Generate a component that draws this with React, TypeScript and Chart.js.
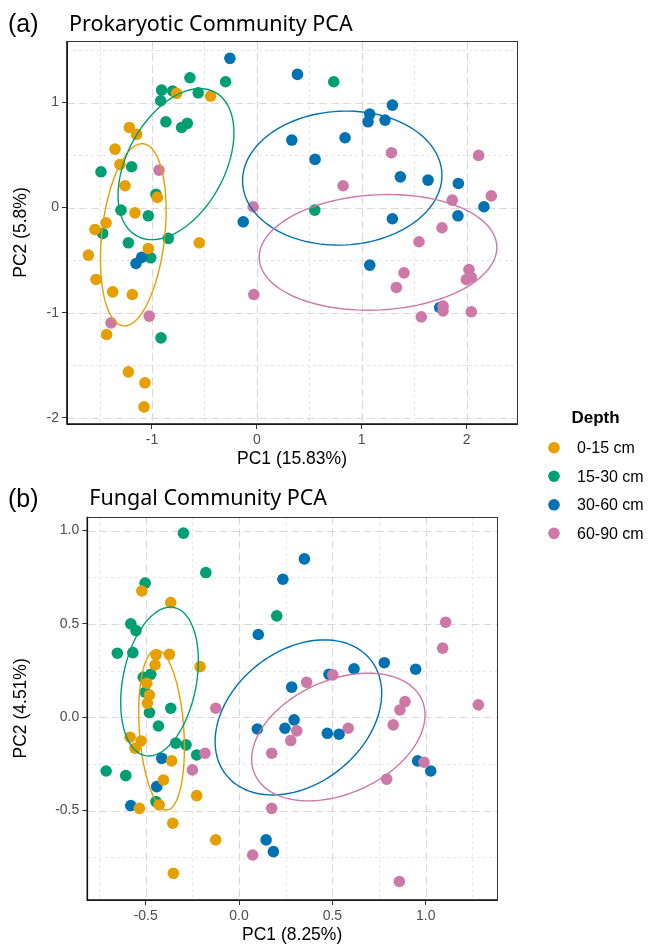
import React, { useEffect, useRef } from "react";
import { Chart, registerables } from "chart.js";
Chart.register(...registerables);

// ---------- shared legend data ----------
const depthLabels = ["0-15 cm", "15-30 cm", "30-60 cm", "60-90 cm"];
const depthColors = ["#E69F00", "#009E73", "#0072B2", "#CC79A7"];
const depthDrawOrder = [1, 3, 2, 0];
const legendTitle = "Depth";

// ---------- (a) Prokaryotic community PCA scores [PC1, PC2] ----------
const prokD1 = [[-0.765,1.088],[-0.441,1.062],[-1.216,0.763],[-1.146,0.697],[-1.352,0.557],[-1.305,0.411],[-1.257,0.208],[-0.949,0.097],[-1.162,-0.05],[-1.543,-0.208],[-1.438,-0.145],[-0.549,-0.335],[-1.035,-0.389],[-1.606,-0.452],[-1.533,-0.684],[-1.375,-0.802],[-1.187,-0.827],[-1.432,-1.208],[-1.225,-1.564],[-1.067,-1.668],[-1.076,-1.897]];
const prokD2 = [[-0.638,1.236],[-0.298,1.198],[-0.908,1.119],[-0.803,1.11],[-0.559,1.093],[-0.917,1.017],[-0.867,0.817],[-0.717,0.763],[-0.663,0.802],[-1.194,0.389],[-1.486,0.341],[-0.962,0.126],[-1.295,-0.024],[-1.035,-0.078],[-1.47,-0.246],[-0.844,-0.293],[-1.225,-0.335],[-1.012,-0.478],[-0.914,-1.24],[0.733,1.198],[0.552,-0.024]];
const prokD3 = [[-0.257,1.421],[-0.13,-0.135],[-1.098,-0.474],[-1.152,-0.532],[0.387,1.268],[1.292,0.976],[1.076,0.89],[1.06,0.817],[1.222,0.833],[0.333,0.643],[0.841,0.665],[0.555,0.459],[1.368,0.293],[1.632,0.262],[1.921,0.23],[2.165,0.008],[1.292,-0.106],[1.917,-0.078],[1.076,-0.548],[1.743,-0.951]];
const prokD4 = [[-0.933,0.357],[-0.035,0.008],[-0.029,-0.827],[-1.026,-1.033],[-1.39,-1.097],[1.283,0.522],[2.114,0.497],[0.822,0.208],[2.235,0.112],[1.863,0.071],[1.765,-0.192],[1.546,-0.325],[1.403,-0.621],[1.33,-0.76],[2.022,-0.589],[1.997,-0.684],[2.044,-0.665],[1.775,-0.938],[1.775,-0.983],[1.568,-1.04],[2.044,-0.992]];
// ellipse per depth: [centerPC1, centerPC2, semiMajor, semiMinor, angleDeg]
const prokEllipses = [[-1.178,-0.259,0.872,0.30,83.7],[-0.771,0.414,0.779,0.464,61.4],[0.814,0.281,0.951,0.637,2.8],[1.155,-0.426,1.134,0.548,3.05]];
const prokXRange = [-1.81, 2.48];
const prokYRange = [-2.06, 1.586];
const prokXTicks = [-1, 0, 1, 2];
const prokXTickLabels = ["-1", "0", "1", "2"];
const prokYTicks = [-2, -1, 0, 1];
const prokYTickLabels = ["-2", "-1", "0", "1"];
const prokXMinor = [-1.5, -0.5, 0.5, 1.5];
const prokYMinor = [-1.5, -0.5, 0.5, 1.5];
const prokTag = "(a)";
const prokTitle = "Prokaryotic Community PCA";
const prokXTitle = "PC1 (15.83%)";
const prokYTitle = "PC2 (5.8%)";

// ---------- (b) Fungal community PCA scores [PC1, PC2] ----------
const fungD1 = [[-0.521,0.676],[-0.366,0.614],[-0.445,0.334],[-0.373,0.337],[-0.45,0.28],[-0.209,0.271],[-0.494,0.182],[-0.48,0.119],[-0.491,0.075],[-0.584,-0.107],[-0.525,-0.127],[-0.557,-0.166],[-0.361,-0.234],[-0.405,-0.336],[-0.227,-0.42],[-0.534,-0.488],[-0.428,-0.47],[-0.355,-0.568],[-0.125,-0.657],[-0.352,-0.836]];
const fungD2 = [[-0.298,0.986],[-0.178,0.775],[-0.503,0.718],[0.202,0.543],[-0.58,0.5],[-0.552,0.464],[-0.652,0.343],[-0.569,0.346],[-0.513,0.214],[-0.473,0.23],[-0.503,0.134],[-0.366,0.048],[-0.48,0.025],[-0.432,-0.047],[-0.339,-0.139],[-0.284,-0.148],[-0.227,-0.202],[-0.712,-0.288],[-0.607,-0.313],[-0.445,-0.452]];
const fungD3 = [[0.235,0.739],[0.35,0.848],[0.103,0.443],[0.098,-0.063],[-0.414,-0.22],[-0.441,-0.372],[-0.58,-0.473],[0.145,-0.657],[0.184,-0.72],[0.778,0.292],[0.946,0.257],[0.616,0.259],[0.482,0.23],[0.282,0.161],[0.295,-0.014],[0.246,-0.059],[0.473,-0.086],[0.536,-0.091],[0.957,-0.234],[1.027,-0.288]];
const fungD4 = [[-0.125,0.048],[-0.182,-0.193],[0.175,-0.193],[-0.25,-0.282],[0.175,-0.488],[0.073,-0.738],[1.107,0.509],[1.091,0.37],[1.282,0.066],[0.502,0.227],[0.362,0.187],[0.889,0.084],[0.862,0.039],[0.826,-0.041],[0.309,-0.073],[0.277,-0.125],[0.585,-0.059],[0.991,-0.241],[0.791,-0.332],[0.859,-0.88]];
const fungEllipses = [[-0.415,-0.068,0.43,0.119,93.9],[-0.426,0.191,0.404,0.197,79.1],[0.318,-0.001,0.495,0.356,38.5],[0.532,-0.106,0.49,0.304,24]];
const fungXRange = [-0.813, 1.382];
const fungYRange = [-0.979, 1.074];
const fungXTicks = [-0.5, 0, 0.5, 1];
const fungXTickLabels = ["-0.5", "0.0", "0.5", "1.0"];
const fungYTicks = [-0.5, 0, 0.5, 1];
const fungYTickLabels = ["-0.5", "0.0", "0.5", "1.0"];
const fungXMinor = [-0.75, -0.25, 0.25, 0.75, 1.25];
const fungYMinor = [-0.75, -0.25, 0.25, 0.75];
const fungTag = "(b)";
const fungTitle = "Fungal Community PCA";
const fungXTitle = "PC1 (8.25%)";
const fungYTitle = "PC2 (4.51%)";

// ---------- styling / layout ----------
const W = 648;
const H = 944;
const SANS = "'Liberation Sans', Arial, sans-serif";
const TITLE_FONT = "'Noto Sans', 'Open Sans', sans-serif";

const panelA = {
  groups: [prokD1, prokD2, prokD3, prokD4],
  ellipses: prokEllipses,
  xRange: prokXRange, yRange: prokYRange,
  xTicks: prokXTicks, xTickLabels: prokXTickLabels,
  yTicks: prokYTicks, yTickLabels: prokYTickLabels,
  xMinor: prokXMinor, yMinor: prokYMinor,
  tag: prokTag, title: prokTitle, xTitle: prokXTitle, yTitle: prokYTitle,
  layout: { top: 41, left: 67, right: 517, bottom: 424, xAxisH: 56, xTitlePad: 12.5, yTitlePad: 12, tagX: 8, tagY: 32, titleX: 69, titleY: 31 },
  legend: true,
};
const panelB = {
  groups: [fungD1, fungD2, fungD3, fungD4],
  ellipses: fungEllipses,
  xRange: fungXRange, yRange: fungYRange,
  xTicks: fungXTicks, xTickLabels: fungXTickLabels,
  yTicks: fungYTicks, yTickLabels: fungYTickLabels,
  xMinor: fungXMinor, yMinor: fungYMinor,
  tag: fungTag, title: fungTitle, xTitle: fungXTitle, yTitle: fungYTitle,
  layout: { top: 516.7, left: 87.3, right: 497, bottom: 900, xAxisH: 44, xTitlePad: 0.5, yTitlePad: 12, tagX: 8, tagY: 507, titleX: 89.3, titleY: 505 },
  legend: false,
};

function decorPlugin(p: any) {
  return {
    id: "ggDecor",
    beforeDatasetsDraw(chart: any) {
      const { ctx, chartArea: ca, scales } = chart;
      const xs = scales.x, ys = scales.y;
      ctx.save();
      ctx.beginPath();
      ctx.rect(ca.left, ca.top, ca.right - ca.left, ca.bottom - ca.top);
      ctx.clip();
      const vline = (v: number) => { const px = Math.round(xs.getPixelForValue(v)) + 0.5; ctx.beginPath(); ctx.moveTo(px, ca.top); ctx.lineTo(px, ca.bottom); ctx.stroke(); };
      const hline = (v: number) => { const py = Math.round(ys.getPixelForValue(v)) + 0.5; ctx.beginPath(); ctx.moveTo(ca.left, py); ctx.lineTo(ca.right, py); ctx.stroke(); };
      ctx.strokeStyle = "#e6e6e6"; ctx.lineWidth = 1; ctx.setLineDash([3, 3]);
      p.xMinor.forEach(vline); p.yMinor.forEach(hline);
      ctx.strokeStyle = "#d9d9d9"; ctx.lineWidth = 1.2; ctx.setLineDash([8, 4]);
      p.xTicks.forEach(vline); p.yTicks.forEach(hline);
      ctx.restore();
    },
    afterDatasetsDraw(chart: any) {
      const { ctx, chartArea: ca, scales } = chart;
      const xs = scales.x, ys = scales.y;
      ctx.save();
      ctx.lineWidth = 1.4;
      p.ellipses.forEach((e: number[], i: number) => {
        const [cx, cy, a, b, deg] = e;
        const phi = (deg * Math.PI) / 180;
        ctx.strokeStyle = depthColors[i];
        ctx.beginPath();
        for (let k = 0; k <= 120; k++) {
          const t = (k / 120) * Math.PI * 2;
          const dx = a * Math.cos(t) * Math.cos(phi) - b * Math.sin(t) * Math.sin(phi);
          const dy = a * Math.cos(t) * Math.sin(phi) + b * Math.sin(t) * Math.cos(phi);
          const px = xs.getPixelForValue(cx + dx);
          const py = ys.getPixelForValue(cy + dy);
          if (k === 0) ctx.moveTo(px, py); else ctx.lineTo(px, py);
        }
        ctx.closePath();
        ctx.stroke();
      });
      // panel border
      ctx.strokeStyle = "#333333";
      ctx.lineWidth = 1;
      ctx.strokeRect(Math.round(ca.left) + 0.5, Math.round(ca.top) + 0.5, Math.round(ca.right - ca.left), Math.round(ca.bottom - ca.top));
      ctx.strokeStyle = "#111111";
      ctx.lineWidth = 1.6;
      ctx.beginPath();
      ctx.moveTo(ca.left, ca.top);
      ctx.lineTo(ca.left, ca.bottom);
      ctx.lineTo(ca.right, ca.bottom);
      ctx.stroke();
      ctx.restore();
    },
    afterDraw(chart: any) {
      const { ctx } = chart;
      const L = p.layout;
      ctx.save();
      ctx.fillStyle = "#000";
      ctx.textBaseline = "alphabetic";
      ctx.textAlign = "left";
      ctx.font = `25px ${SANS}`;
      ctx.fillText(p.tag, L.tagX, L.tagY);
      ctx.font = `21.5px ${TITLE_FONT}`;
      ctx.fillText(p.title, L.titleX, L.titleY);
      if (p.legend) {
        ctx.font = `bold 17px ${SANS}`;
        ctx.textAlign = "center";
        ctx.fillText(legendTitle, 595.5, 422.7);
        ctx.textAlign = "left";
        ctx.font = `16px ${SANS}`;
        depthLabels.forEach((lab, i) => {
          const y = 447.7 + i * 28.55;
          ctx.fillStyle = depthColors[i];
          ctx.beginPath();
          ctx.arc(554, y, 5.8, 0, Math.PI * 2);
          ctx.fill();
          ctx.fillStyle = "#000";
          ctx.fillText(lab, 577, y + 5.6);
        });
      }
      ctx.restore();
    },
  };
}

function buildConfig(p: any) {
  const L = p.layout;
  const tickFont = { family: SANS, size: 14 };
  const titleFont = { family: SANS, size: 17.5, lineHeight: 1 };
  return {
    type: "scatter",
    data: {
      datasets: p.groups.map((pts: number[][], i: number) => ({
        label: depthLabels[i],
        data: pts.map(([x, y]) => ({ x, y })),
        backgroundColor: depthColors[i],
        borderWidth: 0,
        pointRadius: 5.8,
        pointHoverRadius: 5.8,
        order: depthDrawOrder[i],
      })),
    },
    options: {
      responsive: false,
      animation: false,
      events: [],
      layout: { padding: { top: L.top, left: 0, right: W - L.right, bottom: H - L.bottom - L.xAxisH } },
      plugins: { legend: { display: false }, tooltip: { enabled: false }, title: { display: false } },
      scales: {
        x: {
          type: "linear",
          position: "bottom",
          min: p.xRange[0],
          max: p.xRange[1],
          afterBuildTicks: (s: any) => { s.ticks = p.xTicks.map((v: number) => ({ value: v })); },
          afterFit: (s: any) => { s.height = L.xAxisH; s.paddingLeft = 0; s.paddingRight = 0; },
          ticks: { autoSkip: false, maxRotation: 0, padding: 3, color: "#4d4d4d", font: tickFont, callback: (_v: any, i: number) => p.xTickLabels[i] },
          grid: { display: true, drawOnChartArea: false, drawTicks: true, tickLength: 5, tickColor: "#333333", tickWidth: 1 },
          border: { display: false },
          title: { display: true, text: p.xTitle, color: "#000", font: titleFont, padding: { top: 0, bottom: L.xTitlePad } },
        },
        y: {
          type: "linear",
          position: "left",
          min: p.yRange[0],
          max: p.yRange[1],
          afterBuildTicks: (s: any) => { s.ticks = p.yTicks.map((v: number) => ({ value: v })); },
          afterFit: (s: any) => { s.width = L.left; s.paddingTop = 0; s.paddingBottom = 0; },
          ticks: { autoSkip: false, padding: 3, color: "#4d4d4d", font: tickFont, callback: (_v: any, i: number) => p.yTickLabels[i] },
          grid: { display: true, drawOnChartArea: false, drawTicks: true, tickLength: 5, tickColor: "#333333", tickWidth: 1 },
          border: { display: false },
          title: { display: true, text: p.yTitle, color: "#000", font: titleFont, padding: { top: L.yTitlePad, bottom: 0 } },
        },
      },
    },
    plugins: [decorPlugin(p)],
  };
}

export default function App() {
  const refA = useRef<HTMLCanvasElement>(null);
  const refB = useRef<HTMLCanvasElement>(null);
  useEffect(() => {
    document.body.style.margin = "0";
    const cA = new Chart(refA.current as any, buildConfig(panelA) as any);
    const cB = new Chart(refB.current as any, buildConfig(panelB) as any);
    return () => { cA.destroy(); cB.destroy(); };
  }, []);
  const cs: any = { position: "absolute", left: 0, top: 0, width: W, height: H };
  return (
    <div style={{ position: "fixed", left: 0, top: 0, width: W, height: H, background: "#fff" }}>
      <canvas ref={refA} width={W} height={H} style={cs} />
      <canvas ref={refB} width={W} height={H} style={cs} />
    </div>
  );
}
